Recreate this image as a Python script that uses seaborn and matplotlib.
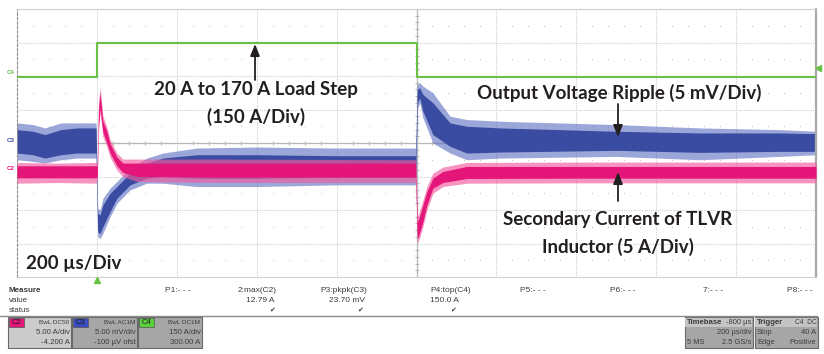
import matplotlib
matplotlib.use("Agg")
import matplotlib.pyplot as plt
import seaborn as sns
from matplotlib.patches import Rectangle

# ---------------- trace data (time in us, amplitude in divisions) ----------------
# C4: load current step
green_t = [0, 200, 200, 1000, 1000, 2000]
green_v = [1.97, 1.97, 2.98, 2.98, 1.98, 1.98]

# C3: output voltage ripple, noise envelope
blue_t = [0, 40, 70, 110, 150, 198, 202, 208, 215, 233, 250, 283, 325, 365, 450,
          600, 800, 998, 1002, 1008, 1016, 1041, 1084, 1126, 1209, 1500, 1710, 1910, 2000]
blue_hi_out = [0.6, 0.55, 0.45, 0.6, 0.6, 0.6, -1.95, -2.0, -1.65, -1.35, -1.15, -0.75, -0.45,
               -0.3, -0.15, -0.12, -0.15, -0.15, 1.75, 1.8, 1.7, 1.5, 0.8, 0.7, 0.65, 0.55,
               0.45, 0.4, 0.35]
blue_lo_out = [-0.5, -0.55, -0.6, -0.5, -0.45, -0.45, -2.8, -2.85, -2.7, -2.2, -1.8, -1.4, -1.2,
               -1.2, -1.3, -1.3, -1.25, -1.25, 1.0, 1.2, 0.75, 0.0, -0.3, -0.5, -0.45, -0.4,
               -0.5, -0.4, -0.35]
blue_hi_core = [0.4, 0.35, 0.25, 0.4, 0.45, 0.45, -2.1, -2.15, -1.85, -1.5, -1.3, -0.9, -0.6,
                -0.45, -0.35, -0.35, -0.38, -0.38, 1.6, 1.65, 1.45, 1.2, 0.6, 0.5, 0.45, 0.35,
                0.3, 0.3, 0.28]
blue_lo_core = [-0.3, -0.35, -0.45, -0.35, -0.3, -0.3, -2.65, -2.7, -2.5, -2.05, -1.65, -1.25,
                -1.05, -1.0, -1.05, -1.05, -1.02, -1.02, 1.2, 1.35, 0.95, 0.25, -0.1, -0.3,
                -0.27, -0.22, -0.28, -0.25, -0.25]

# C2: secondary current of TLVR inductor
pink_t = [0, 100, 198, 201, 204, 208, 215, 225, 233, 250, 265, 300, 500, 998, 1002, 1006,
          1016, 1026, 1041, 1066, 1126, 1400, 2000]
pink_hi_out = [-0.58, -0.6, -0.58, -0.6, 1.2, 1.67, 0.8, 0.48, 0.1, -0.3, -0.48, -0.48, -0.48,
               -0.5, -2.2, -2.1, -1.7, -1.3, -0.9, -0.72, -0.58, -0.57, -0.57]
pink_lo_out = [-1.2, -1.18, -1.2, -1.1, 0.3, 0.9, 0.18, -0.12, -0.42, -0.81, -1.0, -1.15, -1.18,
               -1.18, -3.0, -2.9, -2.5, -2.0, -1.5, -1.3, -1.2, -1.19, -1.19]
pink_hi_core = [-0.68, -0.68, -0.68, -0.7, 1.0, 1.5, 0.65, 0.35, -0.02, -0.42, -0.6, -0.6, -0.6,
                -0.6, -2.35, -2.25, -1.85, -1.45, -1.05, -0.85, -0.7, -0.7, -0.7]
pink_lo_core = [-1.04, -1.04, -1.04, -0.98, 0.5, 1.05, 0.32, 0.0, -0.3, -0.68, -0.88, -1.0,
                -1.02, -1.02, -2.85, -2.75, -2.35, -1.85, -1.35, -1.18, -1.06, -1.05, -1.05]

# measurement table
meas_names = ["P1:- - -", "2:max(C2)", "P3:pkpk(C3)", "P4:top(C4)", "P5:- - -", "P6:- - -", "7:- - -", "P8:- - -"]
meas_values = ["", "12.79 A", "23.70 mV", "150.0 A", "", "", "", ""]

# channel boxes
ch_names = ["C2", "C3", "C4"]
ch_colors = ["#e5167a", "#3a4cc0", "#5ccf3c"]
ch_coupling = ["BwL DC50", "BwL AC1M", "BwL DC1M"]
ch_scale = ["5.00 A/div", "5.00 mV/div", "150 A/div"]
ch_offset = ["-4.200 A", "-100 µV ofst", "300.00 A"]

BLUE, BLUE_L = "#3a4ca2", "#5b6cc0"
PINK, PINK_L = "#e5167a", "#f25a9e"
GREEN = "#69c045"
INK = "#231f20"
GRAY_TXT = "#3c3c3c"

W, H = 824, 354
sns.set_style("white")
plt.rcParams['font.family'] = ['Lato', 'DejaVu Sans']

fig = plt.figure(figsize=(W / 100, H / 100), dpi=100)
fig.patch.set_facecolor("white")
ax = fig.add_axes([17 / W, 1 - 277 / H, 799 / W, 268 / H])
ax.set_xlim(0, 2000)
ax.set_ylim(-4, 4)

# graticule
ax.set_xticks(range(0, 2001, 200))
ax.set_yticks(range(-4, 5))
ax.tick_params(length=0, labelbottom=False, labelleft=False)
ax.grid(True, color="#cfcfcf", lw=0.8, ls=(0, (1, 1)))
ax.axvline(1000, color="#b8b8b8", lw=0.9, zorder=0.6)
ax.axhline(0, color="#b8b8b8", lw=0.9, zorder=0.6)
sub_t = [t for t in range(0, 2001, 40) if t % 200]
sub_v = [v / 5 for v in range(-20, 21) if v % 5]
ax.scatter(sub_t, [0] * len(sub_t), marker="|", s=10, color="#b8b8b8", lw=0.8, zorder=0.6)
ax.scatter([1000] * len(sub_v), sub_v, marker="_", s=10, color="#b8b8b8", lw=0.8, zorder=0.6)
for row in [-3.5, -2.5, -1.5, -0.5, 0.5, 1.5, 2.5, 3.5]:
    ax.scatter(sub_t, [row] * len(sub_t), s=0.8, color="#c4c4c4", lw=0, zorder=0.6)

for name, sp in ax.spines.items():
    sp.set_visible(True)
    sp.set_color("#d0d0d0")
    sp.set_linewidth(0.8)
ax.spines["left"].set_color("#8a8a8a")
ax.spines["left"].set_linestyle((0, (2, 2)))
ax.spines["right"].set_color("#a8a8a8")
ax.spines["right"].set_linewidth(1.6)

# traces
ax.fill_between(blue_t, blue_lo_out, blue_hi_out, color=BLUE_L, alpha=0.6, lw=0, zorder=2)
ax.fill_between(blue_t, blue_lo_core, blue_hi_core, color=BLUE, lw=0, zorder=2.1)
ax.fill_between(pink_t, pink_lo_out, pink_hi_out, color=PINK_L, alpha=0.65, lw=0, zorder=3)
ax.fill_between(pink_t, pink_lo_core, pink_hi_core, color=PINK, lw=0, zorder=3.1)
sns.lineplot(x=green_t, y=green_v, ax=ax, color=GREEN, lw=1.5, estimator=None, sort=False, zorder=4)

# overlay in pixel coordinates for labels and the status panel
ov = fig.add_axes([0, 0, 1, 1], zorder=5)
ov.set_xlim(0, W)
ov.set_ylim(H, 0)
ov.axis("off")
ov.patch.set_alpha(0)

big = dict(fontsize=13.5, fontweight="bold", color=INK, ha="center", va="center")
ov.text(256, 90, "20 A to 170 A Load Step", **big)
ov.text(256, 117, "(150 A/Div)", **big)
ov.text(26, 264, "200 µs/Div", **dict(big, ha="left"))
ov.text(619, 93, "Output Voltage Ripple (5 mV/Div)", **big)
ov.text(618, 220, "Secondary Current of TLVR", **big)
ov.text(618, 247, "Inductor (5 A/Div)", **big)
arrow = dict(arrowstyle="-|>,head_length=0.7,head_width=0.28", color=INK, lw=1.3, shrinkA=0, shrinkB=0)
ov.annotate("", xy=(255, 44), xytext=(255, 80), arrowprops=arrow)
ov.annotate("", xy=(618, 137), xytext=(618, 104), arrowprops=arrow)
ov.annotate("", xy=(618, 172), xytext=(618, 201), arrowprops=arrow)

# channel ground markers and trigger markers
small = dict(fontsize=4.5, fontweight="bold", ha="left", va="center", family="Liberation Sans")
ov.text(7, 73, "C4", color=GREEN, **small)
ov.text(7, 140, "C3", color=BLUE, **small)
ov.text(7, 168, "C2", color=PINK, **small)
ov.plot([818], [68], marker="<", ms=4, color=GREEN)
ov.plot([97], [280], marker="^", ms=4, color=GREEN)

# measurement panel
mfont = dict(family="Liberation Sans", color=GRAY_TXT, va="center")
ov.text(9, 290, "Measure", fontsize=5.8, fontweight="bold", **mfont)
ov.text(9, 300, "value", fontsize=5.8, **mfont)
ov.text(9, 310, "status", fontsize=5.8, **mfont)
name_x = [165, 277, 367, 430, 520, 610, 703, 787]
name_ha = ["left", "right", "right", "left", "left", "left", "left", "left"]
val_x = [0, 275, 365, 459, 0, 0, 0, 0]
check_x = [0, 272, 360, 453, 0, 0, 0, 0]
for i, nm in enumerate(meas_names):
    ov.text(name_x[i], 290, nm, fontsize=6, ha=name_ha[i], **mfont)
    if meas_values[i]:
        ov.text(val_x[i], 300, meas_values[i], fontsize=6, ha="right", **mfont)
        ov.text(check_x[i], 310, "\u2714", fontsize=5, ha="center", va="center",
                family="DejaVu Sans", color="#404040")
ov.plot([0, 817], [316, 316], color="#8c8c8c", lw=1)

box_x = [8, 72, 138]
box_w = [63, 65, 64]
box_fill = ["#cbcbcb", "#a6a6a6", "#a6a6a6"]
for i in range(3):
    ov.add_patch(Rectangle((box_x[i], 317), box_w[i], 31, facecolor=box_fill[i],
                           edgecolor="#6a6a6a", lw=0.8))
    ov.add_patch(Rectangle((box_x[i] + 1, 318), 15, 9, facecolor=ch_colors[i],
                           edgecolor="#555555", lw=0.5))
    ov.text(box_x[i] + 8.5, 322.5, ch_names[i], fontsize=5.5, ha="center", va="center",
            family="Liberation Sans", color="#1a1a1a")
    right = box_x[i] + box_w[i] - 1.5
    ov.text(right, 322.5, ch_coupling[i], fontsize=4.6, ha="right", **mfont)
    ov.text(right, 333, ch_scale[i], fontsize=5.6, ha="right", **mfont)
    ov.text(right, 343, ch_offset[i], fontsize=5.6, ha="right", **mfont)

# timebase / trigger boxes
for x0, w in [(685, 68), (755, 63)]:
    ov.add_patch(Rectangle((x0, 317), w, 31, facecolor="#a6a6a6", edgecolor="#6a6a6a", lw=0.8))
    ov.add_patch(Rectangle((x0 + 0.5, 317.5), w - 1, 9.5, facecolor="#c4c4c4", lw=0))
ov.text(687, 322.5, "Timebase", fontsize=5.6, fontweight="bold", ha="left", **mfont)
ov.text(751.5, 322.5, "-800 µs", fontsize=5.4, ha="right", **mfont)
ov.text(751.5, 333, "200 µs/div", fontsize=5.4, ha="right", **mfont)
ov.text(687, 343, "5 MS", fontsize=5.4, ha="left", **mfont)
ov.text(751.5, 343, "2.5 GS/s", fontsize=5.4, ha="right", **mfont)
ov.text(757, 322.5, "Trigger", fontsize=5.6, fontweight="bold", ha="left", **mfont)
ov.text(816.5, 322.5, "C4  DC", fontsize=4.8, ha="right", **mfont)
ov.text(757, 333, "Stop", fontsize=5.4, ha="left", **mfont)
ov.text(816.5, 333, "40 A", fontsize=5.4, ha="right", **mfont)
ov.text(757, 343, "Edge", fontsize=5.4, ha="left", **mfont)
ov.text(816.5, 343, "Positive", fontsize=5.4, ha="right", **mfont)

fig.savefig("out.png", dpi=100)
